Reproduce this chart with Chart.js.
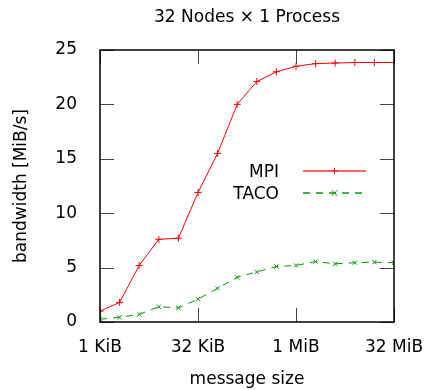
<!DOCTYPE html>
<html>
<head>
<meta charset="utf-8">
<script src="https://cdn.jsdelivr.net/npm/chart.js@4"></script>
<style>
  html, body { margin: 0; padding: 0; background: #fff; }
</style>
</head>
<body>
<canvas id="bw" width="429" height="390"></canvas>
<script>
// message sizes in bytes, 1 KiB .. 32 MiB
const sizes = [1024, 2048, 4096, 8192, 16384, 32768, 65536, 131072, 262144, 524288,
               1048576, 2097152, 4194304, 8388608, 16777216, 33554432];
const mpiBw  = [1.0, 1.8, 5.2, 7.6, 7.7, 11.9, 15.5, 20.0, 22.1, 23.0, 23.5, 23.75, 23.8, 23.85, 23.85, 23.85];
const tacoBw = [0.25, 0.43, 0.7, 1.4, 1.3, 2.1, 3.1, 4.1, 4.6, 5.1, 5.2, 5.55, 5.35, 5.45, 5.5, 5.45];

const xTickValues = [1024, 32768, 1048576, 33554432];
const xTickLabels = ['1 KiB', '32 KiB', '1 MiB', '32 MiB'];
const yTickValues = [0, 5, 10, 15, 20, 25];

const FONT = 'DejaVu Sans';

function points(ys) {
    return sizes.map((s, i) => ({ x: s, y: ys[i] }));
}

// gnuplot style frame: box plus inward ticks on all four sides
const framePlugin = {
    id: 'frame',
    afterDatasetsDraw(chart) {
        const { ctx, chartArea: a, scales: { x, y } } = chart;
        ctx.save();
        ctx.strokeStyle = '#444';
        ctx.lineWidth = 1;
        ctx.beginPath();
        x.ticks.forEach(t => {
            const px = Math.round(x.getPixelForValue(t.value)) + 0.5;
            ctx.moveTo(px, a.bottom); ctx.lineTo(px, a.bottom - 14);
            ctx.moveTo(px, a.top); ctx.lineTo(px, a.top + 14);
        });
        y.ticks.forEach(t => {
            const py = Math.round(y.getPixelForValue(t.value)) + 0.5;
            ctx.moveTo(a.left, py); ctx.lineTo(a.left + 14, py);
            ctx.moveTo(a.right, py); ctx.lineTo(a.right - 14, py);
        });
        ctx.stroke();
        ctx.strokeStyle = '#000';
        ctx.lineWidth = 1.5;
        ctx.strokeRect(a.left, a.top, a.width, a.height);
        ctx.restore();
    }
};

// legend inside the plot: text right aligned, sample line to the right
const keyPlugin = {
    id: 'key',
    afterDraw(chart) {
        const { ctx } = chart;
        const textRight = 279, x0 = 303, x1 = 366, top = 171, step = 22;
        ctx.save();
        chart.data.datasets.forEach((ds, i) => {
            const yy = top + i * step;
            ctx.font = '17px ' + FONT;
            ctx.fillStyle = '#000';
            ctx.textAlign = 'right';
            ctx.textBaseline = 'middle';
            ctx.fillText(ds.label, textRight, yy + 2);
            ctx.strokeStyle = ds.borderColor;
            ctx.lineWidth = i === 0 ? 2 : 1.5;
            ctx.globalAlpha = i === 0 ? 0.6 : 1;
            ctx.setLineDash(ds.borderDash || []);
            ctx.beginPath();
            ctx.moveTo(x0, yy); ctx.lineTo(x1, yy);
            ctx.stroke();
            ctx.globalAlpha = 1;
            ctx.setLineDash([]);
            ctx.lineWidth = 1;
            const mx = (x0 + x1) / 2, r = 3;
            ctx.beginPath();
            if (ds.pointStyle === 'cross') {
                ctx.moveTo(mx - r, yy); ctx.lineTo(mx + r, yy);
                ctx.moveTo(mx, yy - r); ctx.lineTo(mx, yy + r);
            } else {
                ctx.moveTo(mx - r, yy - r); ctx.lineTo(mx + r, yy + r);
                ctx.moveTo(mx - r, yy + r); ctx.lineTo(mx + r, yy - r);
            }
            ctx.stroke();
        });
        ctx.restore();
    }
};

new Chart(document.getElementById('bw'), {
    type: 'line',
    data: {
        datasets: [{
            label: 'MPI',
            data: points(mpiBw),
            borderColor: '#ff0000',
            backgroundColor: '#ff0000',
            borderWidth: 1,
            pointStyle: 'cross',
            pointRadius: 3.5,
            pointBorderWidth: 1,
            tension: 0
        }, {
            label: 'TACO',
            data: points(tacoBw),
            borderColor: '#009a00',
            backgroundColor: '#009a00',
            borderWidth: 1,
            borderDash: [7, 6],
            pointStyle: 'crossRot',
            pointRadius: 3,
            pointBorderWidth: 1,
            tension: 0
        }]
    },
    options: {
        responsive: false,
        animation: false,
        layout: { padding: { left: 0, right: 35, top: 0, bottom: 0 } },
        plugins: {
            legend: { display: false },
            tooltip: { enabled: false },
            title: {
                display: true,
                text: '32 Nodes \u00d7 1 Process',
                fullSize: false,
                color: '#000',
                font: { family: FONT, size: 17, weight: 'normal' },
                padding: { top: 7, bottom: 22.6 }
            }
        },
        scales: {
            x: {
                type: 'logarithmic',
                min: 1024,
                max: 33554432,
                afterBuildTicks(scale) {
                    scale.ticks = xTickValues.map(v => ({ value: v }));
                },
                afterFit(scale) {
                    scale.height = 68;
                    scale.paddingLeft = 0;
                    scale.paddingRight = 0;
                },
                grid: { display: false, drawTicks: false },
                border: { display: false },
                ticks: {
                    color: '#000',
                    font: { family: FONT, size: 17 },
                    padding: 15,
                    maxRotation: 0,
                    autoSkip: false,
                    callback: (v) => xTickLabels[xTickValues.indexOf(v)]
                },
                title: {
                    display: true,
                    text: 'message size',
                    color: '#000',
                    font: { family: FONT, size: 17 },
                    padding: { top: 0, bottom: 0 }
                }
            },
            y: {
                min: 0,
                max: 25,
                afterBuildTicks(scale) {
                    scale.ticks = yTickValues.map(v => ({ value: v }));
                },
                afterFit(scale) {
                    scale.width = 100;
                    scale.paddingTop = 0;
                    scale.paddingBottom = 0;
                },
                grid: { display: false, drawTicks: false },
                border: { display: false },
                ticks: {
                    color: '#000',
                    font: { family: FONT, size: 17 },
                    padding: 23
                },
                title: {
                    display: true,
                    text: 'bandwidth [MiB/s]',
                    color: '#000',
                    font: { family: FONT, size: 17 },
                    padding: { top: 11, bottom: 0 }
                }
            }
        }
    },
    plugins: [framePlugin, keyPlugin]
});
</script>
</body>
</html>
